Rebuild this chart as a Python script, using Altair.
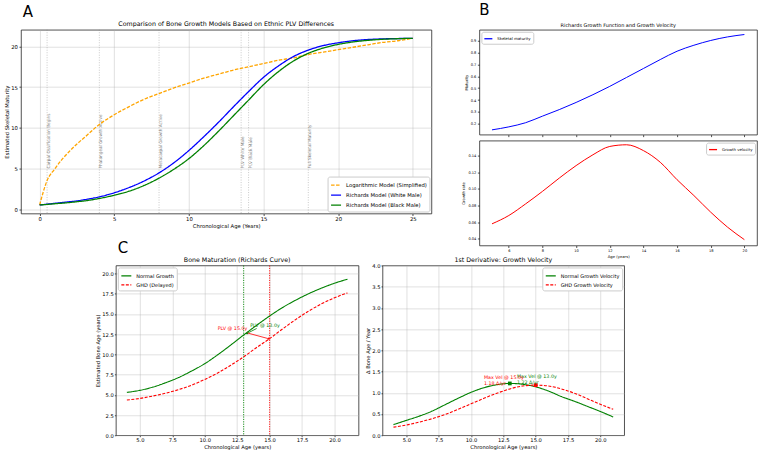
import altair as alt
import pandas as pd

FONT = "DejaVu Sans"

# ===================== Panel A data =====================
a_age = [0, 0.5, 1, 1.5, 2, 2.5, 3, 4, 5, 6, 7, 8, 9, 10, 11, 12, 13, 14, 15, 16, 17, 18, 19, 20, 21, 22, 23, 24, 25]
a_log = [0.5, 3.5, 4.9, 6.1, 7.1, 8.0, 8.8, 10.4, 11.6, 12.6, 13.5, 14.2, 14.9, 15.5, 16.1, 16.6, 17.1, 17.5, 17.9, 18.3, 18.6, 19.0, 19.3, 19.6, 19.9, 20.2, 20.5, 20.7, 21.0]
a_white = [0.5, 0.6, 0.7, 0.8, 0.9, 1.0, 1.15, 1.5, 2.0, 2.65, 3.45, 4.45, 5.7, 7.2, 8.9, 10.7, 12.6, 14.45, 16.2, 17.6, 18.75, 19.55, 20.1, 20.45, 20.7, 20.85, 20.93, 20.97, 21.0]
a_black = [0.5, 0.57, 0.65, 0.72, 0.8, 0.9, 1.0, 1.3, 1.7, 2.2, 2.9, 3.8, 4.9, 6.2, 7.8, 9.6, 11.5, 13.4, 15.3, 16.9, 18.2, 19.15, 19.8, 20.25, 20.55, 20.75, 20.88, 20.95, 21.0]
a_series = ["Logarithmic Model (Simplified)", "Richards Model (White Male)", "Richards Model (Black Male)"]
a_colors = ["orange", "blue", "green"]
a_event_age = [0.5, 4, 8, 13.5, 14, 18]
a_event_label = ["Carpal Ossification Begins", "Phalangeal Growth Active", "Metacarpal Growth Active",
                 "PLV White Male", "PLV Black Male", "Full Skeletal Maturity"]
a_event_text_y = [5, 5, 5, 5, 5, 5]
a_xticks = [0, 5, 10, 15, 20, 25]
a_yticks = [0, 5, 10, 15, 20]
a_title = "Comparison of Bone Growth Models Based on Ethnic PLV Differences"

# ===================== Panel B data =====================
b_age = [5, 6, 7, 8, 9, 10, 11, 12, 13, 14, 15, 16, 17, 18, 19, 20]
b_maturity = [0.15, 0.175, 0.21, 0.265, 0.32, 0.38, 0.445, 0.515, 0.59, 0.665, 0.74, 0.81, 0.86, 0.9, 0.93, 0.95]
b_velocity = [0.058, 0.068, 0.082, 0.097, 0.113, 0.128, 0.141, 0.151, 0.153, 0.146, 0.132, 0.111, 0.092, 0.072, 0.054, 0.039]
b_xticks = [6, 8, 10, 12, 14, 16, 18, 20]
b_mat_ticks = [0.2, 0.3, 0.4, 0.5, 0.6, 0.7, 0.8, 0.9]
b_vel_ticks = [0.04, 0.06, 0.08, 0.10, 0.12, 0.14]
b_title = "Richards Growth Function and Growth Velocity"

# ===================== Panel C data =====================
c_age = [4, 5, 6, 7, 8, 9, 10, 11, 12, 13, 14, 15, 16, 17, 18, 19, 20, 21]
c_normal = [5.3, 5.55, 5.95, 6.5, 7.15, 7.95, 8.85, 9.95, 11.15, 12.4, 13.6, 14.75, 15.8, 16.7, 17.5, 18.2, 18.8, 19.3]
c_ghd = [4.35, 4.55, 4.85, 5.2, 5.65, 6.2, 6.9, 7.7, 8.65, 9.7, 10.85, 11.95, 13.15, 14.3, 15.35, 16.25, 17.0, 17.6]
c_vel_normal = [0.25, 0.35, 0.45, 0.57, 0.72, 0.87, 1.01, 1.12, 1.19, 1.22, 1.2, 1.14, 1.04, 0.91, 0.8, 0.68, 0.56, 0.43]
c_vel_ghd = [0.19, 0.24, 0.31, 0.39, 0.49, 0.61, 0.74, 0.87, 0.99, 1.09, 1.16, 1.18, 1.16, 1.09, 0.99, 0.86, 0.73, 0.61]
c1_series = ["Normal Growth", "GHD (Delayed)"]
c2_series = ["Normal Growth Velocity", "GHD Growth Velocity"]
c_xticks = [5.0, 7.5, 10.0, 12.5, 15.0, 17.5, 20.0]
c1_yticks = [0, 2.5, 5, 7.5, 10, 12.5, 15, 17.5, 20]
c2_yticks = [0, 0.5, 1, 1.5, 2, 2.5, 3, 3.5, 4]
c_plv_age = [13, 15]
c_plv_color = ["green", "red"]
c1_ann_text = ["PLV @ 13.0y", "PLV @ 15.0y"]
c1_ann_x = [13.5, 11.0]
c1_ann_y = [13.5, 13.15]
c1_arrow_x = [14.0, 13.26]
c1_arrow_y = [13.2, 12.66]
c1_arrow_x2 = [13.23, 14.96]
c1_arrow_y2 = [12.57, 11.92]
c1_arrow_angle = [153, 15]
c2_peak_x = [13.0, 15.0]
c2_peak_y = [1.22, 1.18]
c2_ann_text = ["Max Vel @ 13.0y\n1.22 \u0394/yr", "Max Vel @ 15.0y\n1.18 \u0394/yr"]
c2_ann_x = [13.55, 11.0]
c2_ann_y = [1.375, 1.345]
c1_title = "Bone Maturation (Richards Curve)"
c2_title = "1st Derivative: Growth Velocity"


def legend(orient, fs, sym, pad=3, rowpad=2):
    return alt.Legend(title=None, orient=orient, offset=2, fillColor="white", strokeColor="#cccccc",
                      cornerRadius=2, padding=pad, labelFontSize=fs, symbolType="stroke", symbolSize=sym,
                      symbolStrokeWidth=1.3, rowPadding=rowpad, labelLimit=400, labelColor="black",
                      labelFont=FONT)


def label_text(t, x, y, size, align="left", baseline="alphabetic"):
    return alt.Chart(pd.DataFrame({"t": [t]})).mark_text(
        fontSize=size, align=align, baseline=baseline, font=FONT, color="black"
    ).encode(text="t:N", x=alt.value(x), y=alt.value(y))


# ===================== Panel A =====================
dfA = pd.DataFrame({
    "age": a_age * 3,
    "value": a_log + a_white + a_black,
    "model": [m for m in a_series for _ in a_age],
})
dfA_ev = pd.DataFrame({"age": a_event_age, "value": a_event_text_y, "label": a_event_label})

xA = alt.X("age:Q", scale=alt.Scale(domain=[-1.25, 26.25], nice=False, zero=False),
           axis=alt.Axis(values=a_xticks, title="Chronological Age (Years)", grid=True, tickSize=2,
                         labelPadding=1, labelFontSize=5.3, titleFontSize=5.3, titlePadding=2))
yA = alt.Y("value:Q", scale=alt.Scale(domain=[-0.55, 22.05], nice=False, zero=False),
           axis=alt.Axis(values=a_yticks, title="Estimated Skeletal Maturity", grid=True, tickSize=2,
                         labelPadding=1.5, labelFontSize=5.3, titleFontSize=5.3, titlePadding=1.6))

a_rules = alt.Chart(dfA_ev).mark_rule(color="gray", strokeDash=[1, 1.5], strokeWidth=0.7, opacity=0.6).encode(x=xA)
a_text = alt.Chart(dfA_ev).mark_text(angle=270, align="left", baseline="top", fontSize=4.2,
                                     color="#808080", font=FONT).encode(x=xA, y=yA, text="label:N")
legA = legend("bottom-right", 5.3, 100, pad=2.5, rowpad=-1.6)
a_lines = alt.Chart(dfA).mark_line(strokeWidth=1.3, interpolate="monotone").encode(
    x=xA, y=yA,
    color=alt.Color("model:N", scale=alt.Scale(domain=a_series, range=a_colors), legend=legA),
    strokeDash=alt.StrokeDash("model:N", scale=alt.Scale(domain=a_series, range=[[3.5, 1.5], [1, 0], [1, 0]]), legend=legA),
)
panelA = alt.layer(
    a_rules, a_text, a_lines,
    label_text("A", 1.7, -13, 15),
    label_text("C", 97, 223.7, 15),
    label_text(a_title, 205.5, -5.3, 6.3, align="center", baseline="middle"),
).properties(width=411, height=184)

# ===================== Panel B =====================
dfB = pd.DataFrame({"age": b_age, "maturity": b_maturity, "velocity": b_velocity,
                    "s1": ["Skeletal maturity"] * len(b_age), "s2": ["Growth velocity"] * len(b_age)})
xB_scale = alt.Scale(domain=[4.25, 20.75], nice=False, zero=False)
b_top = alt.Chart(dfB).mark_line(strokeWidth=1.0, interpolate="monotone").encode(
    x=alt.X("age:Q", scale=xB_scale, axis=alt.Axis(values=b_xticks, labels=False, title=None, grid=False, tickSize=2)),
    y=alt.Y("maturity:Q", scale=alt.Scale(domain=[0.11, 0.99], nice=False, zero=False),
            axis=alt.Axis(values=b_mat_ticks, format=".1f", title="Maturity", grid=False, tickSize=2,
                          labelPadding=1.5, labelFontSize=3.6, titleFontSize=3.8, titlePadding=2)),
    color=alt.Color("s1:N", scale=alt.Scale(domain=["Skeletal maturity"], range=["blue"]),
                    legend=legend("top-left", 3.9, 64, pad=2)),
)
panelBtop = alt.layer(
    b_top,
    label_text("B", 0, -14.7, 15),
    label_text(b_title, 139, -4.7, 5.0, align="center", baseline="middle"),
).properties(width=278, height=105)
panelBbot = alt.Chart(dfB).mark_line(strokeWidth=1.0, interpolate="monotone").encode(
    x=alt.X("age:Q", scale=xB_scale, axis=alt.Axis(values=b_xticks, title="Age (years)", grid=False, tickSize=2,
                                                   labelPadding=1.5, labelFontSize=3.6, titleFontSize=3.8, titlePadding=2)),
    y=alt.Y("velocity:Q", scale=alt.Scale(domain=[0.032, 0.158], nice=False, zero=False),
            axis=alt.Axis(values=b_vel_ticks, format=".2f", title="Growth rate", grid=False, tickSize=2,
                          labelPadding=1.5, labelFontSize=3.6, titleFontSize=3.8, titlePadding=2)),
    color=alt.Color("s2:N", scale=alt.Scale(domain=["Growth velocity"], range=["red"]),
                    legend=legend("top-right", 3.9, 64, pad=2)),
).properties(width=278, height=105)
panelB = alt.vconcat(panelBtop, panelBbot, spacing=2).resolve_scale(color="independent")

# ===================== Panel C =====================
xC = alt.X("age:Q", scale=alt.Scale(domain=[3.15, 21.85], nice=False, zero=False),
           axis=alt.Axis(values=c_xticks, format=".1f", title="Chronological Age (years)", grid=True, tickSize=1.5,
                         labelPadding=0.5, labelFontSize=5.2, titleFontSize=5.2, titlePadding=2))

dfC1 = pd.DataFrame({"age": c_age * 2, "value": c_normal + c_ghd,
                     "series": [s for s in c1_series for _ in c_age]})
yC1 = alt.Y("value:Q", scale=alt.Scale(domain=[0, 21], nice=False, zero=False),
            axis=alt.Axis(values=c1_yticks, format=".1f", title="Estimated Bone Age (years)", grid=True, tickSize=1.5,
                          labelPadding=1, labelFontSize=5.2, titleFontSize=5.2, titlePadding=1))
legC1 = legend("top-left", 5.0, 100, pad=2.5, rowpad=-2.7)
c1_lines = alt.Chart(dfC1).mark_line(strokeWidth=1.1, interpolate="monotone").encode(
    x=xC, y=yC1,
    color=alt.Color("series:N", scale=alt.Scale(domain=c1_series, range=["green", "red"]), legend=legC1),
    strokeDash=alt.StrokeDash("series:N", scale=alt.Scale(domain=c1_series, range=[[1, 0], [3, 1.5]]), legend=legC1),
)
c1_vrule_green = alt.Chart(pd.DataFrame({"age": [c_plv_age[0]]})).mark_rule(
    color=c_plv_color[0], strokeDash=[1.2, 1.2], strokeWidth=1.0, opacity=0.9).encode(x=xC)
c1_vrule_red = alt.Chart(pd.DataFrame({"age": [c_plv_age[1]]})).mark_rule(
    color=c_plv_color[1], strokeDash=[1.2, 1.2], strokeWidth=1.0, opacity=0.9).encode(x=xC)
dfC1ann = pd.DataFrame({"age": c1_ann_x, "value": c1_ann_y, "txt": c1_ann_text, "col": c_plv_color})
dfC1arr = pd.DataFrame({"age": c1_arrow_x, "value": c1_arrow_y, "age2": c1_arrow_x2, "value2": c1_arrow_y2,
                        "col": c_plv_color})
dfC1head = pd.DataFrame({"age": c1_arrow_x2, "value": c1_arrow_y2, "ang": c1_arrow_angle, "col": c_plv_color})
c1_text = alt.Chart(dfC1ann).mark_text(align="left", baseline="middle", fontSize=4.8, font=FONT).encode(
    x=xC, y=yC1, text="txt:N", color=alt.Color("col:N", scale=None))
c1_arrow = alt.Chart(dfC1arr).mark_rule(strokeWidth=0.8).encode(
    x=xC, y=yC1, x2="age2:Q", y2="value2:Q", color=alt.Color("col:N", scale=None))
c1_head = alt.Chart(dfC1head).mark_point(shape="triangle-right", filled=True, size=7, opacity=1).encode(
    x=xC, y=yC1, angle=alt.Angle("ang:Q", scale=None), color=alt.Color("col:N", scale=None))
panelC1 = alt.layer(
    c1_vrule_green, c1_vrule_red, c1_lines, c1_arrow, c1_head, c1_text,
    label_text(c1_title, 121.5, -5.7, 6.3, align="center", baseline="middle"),
).properties(width=243, height=170)

dfC2 = pd.DataFrame({"age": c_age * 2, "value": c_vel_normal + c_vel_ghd,
                     "series": [s for s in c2_series for _ in c_age]})
yC2 = alt.Y("value:Q", scale=alt.Scale(domain=[0, 4], nice=False, zero=False),
            axis=alt.Axis(values=c2_yticks, format=".1f", title="\u0394 Bone Age / Year", grid=True, tickSize=1.5,
                          labelPadding=1, labelFontSize=5.2, titleFontSize=5.2, titlePadding=1))
legC2 = legend("top-right", 5.0, 100, pad=2.5, rowpad=-2.7)
c2_lines = alt.Chart(dfC2).mark_line(strokeWidth=1.1, interpolate="monotone").encode(
    x=xC, y=yC2,
    color=alt.Color("series:N", scale=alt.Scale(domain=c2_series, range=["green", "red"]), legend=legC2),
    strokeDash=alt.StrokeDash("series:N", scale=alt.Scale(domain=c2_series, range=[[1, 0], [3, 1.5]]), legend=legC2),
)
dfC2pk = pd.DataFrame({"age": c2_peak_x, "value": c2_peak_y, "col": c_plv_color})
c2_marks = alt.Chart(dfC2pk).mark_point(shape="square", filled=True, size=14, opacity=1).encode(
    x=xC, y=yC2, color=alt.Color("col:N", scale=None))
dfC2ann = pd.DataFrame({"age": c2_ann_x, "value": c2_ann_y, "txt": c2_ann_text, "col": c_plv_color})
c2_text = alt.Chart(dfC2ann).mark_text(align="left", baseline="middle", fontSize=4.8, font=FONT,
                                       lineBreak="\n", lineHeight=6).encode(
    x=xC, y=yC2, text="txt:N", color=alt.Color("col:N", scale=None))
panelC2 = alt.layer(
    c2_lines, c2_marks, c2_text,
    label_text(c2_title, 121, -5.7, 6.3, align="center", baseline="middle"),
).properties(width=242, height=170)

spacer = alt.Chart(pd.DataFrame({"s": [0]})).mark_point(opacity=0).encode(
    x=alt.X("s:Q", axis=None), y=alt.Y("s:Q", axis=None)
).properties(width=69, height=10, view=alt.ViewBackground(stroke=None))

row1 = alt.hconcat(panelA, panelB, spacing=29).resolve_scale(color="independent", strokeDash="independent")
row2 = alt.hconcat(spacer, panelC1, panelC2, spacing=5).resolve_scale(color="independent", strokeDash="independent")

chart = alt.vconcat(row1, row2, spacing=-4).resolve_scale(
    color="independent", strokeDash="independent"
).properties(
    padding={"left": 3, "top": 1.5, "right": 2, "bottom": 2}
).configure(font=FONT).configure_view(
    stroke="#262626", strokeWidth=0.8
).configure_axis(
    domain=False, tickColor="#262626", tickWidth=0.8, labelColor="black", titleColor="black",
    titleFontWeight="normal", gridColor="#b0b0b0", gridOpacity=0.55, gridWidth=0.7,
    labelFont=FONT, titleFont=FONT
).configure_title(font=FONT, fontWeight="normal", color="black")

chart.save("out.html", embed_options={"renderer": "svg", "actions": False})
